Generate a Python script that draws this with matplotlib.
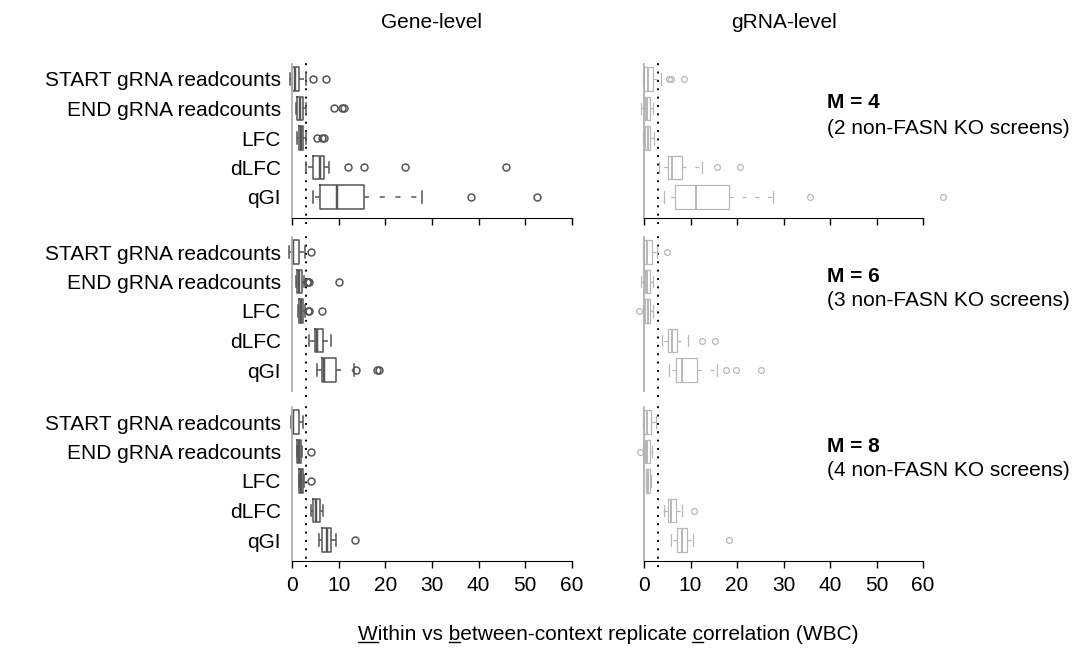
import matplotlib
matplotlib.use('Agg')
import matplotlib.pyplot as plt
from matplotlib.lines import Line2D

plt.rcParams['font.family'] = ['Liberation Sans', 'DejaVu Sans']

# ---------------- data ----------------
categories = ["START gRNA readcounts", "END gRNA readcounts", "LFC", "dLFC", "qGI"]
level_titles = ["Gene-level", "gRNA-level"]
panel_M = [4, 6, 8]
panel_screens = [2, 3, 4]
x_ticks = [0, 10, 20, 30, 40, 50, 60]
threshold = 3.0
x_label = "Within vs between-context replicate correlation (WBC)"
underline_idx = [0, 10, 36]

# box stats per category: [whislo, q1, median, q3, whishi]
gene_M4_box = [[-0.5, 0.1, 0.6, 1.6, 3.1], [0.9, 1.1, 1.7, 2.3, 3.1], [1.1, 1.4, 1.9, 2.3, 2.9],
               [3.1, 4.6, 6.1, 6.9, 7.9], [4.4, 6.0, 9.7, 15.4, 27.8]]
gene_M4_fliers = [[4.6, 7.3], [9.0, 10.8, 11.1], [5.3, 6.5, 6.9], [12.1, 15.4, 24.3, 45.9], [38.3, 52.4]]
gene_M6_box = [[-0.6, 0.1, 0.3, 1.6, 2.8], [0.9, 1.0, 1.5, 2.1, 2.6], [1.3, 1.5, 1.9, 2.3, 2.7],
               [3.7, 4.9, 5.3, 6.6, 8.4], [5.3, 6.4, 6.9, 9.4, 13.2]]
gene_M6_fliers = [[4.0], [3.3, 3.5, 3.6, 10.1], [3.5, 3.7, 6.4], [], [13.7, 18.3, 18.7]]
gene_M8_box = [[-0.2, 0.1, 0.3, 1.6, 2.4], [1.0, 1.1, 1.5, 1.9, 2.2], [1.4, 1.5, 1.9, 2.3, 2.6],
               [4.1, 4.6, 5.1, 6.0, 6.7], [5.7, 6.4, 7.4, 8.3, 9.4]]
gene_M8_fliers = [[], [4.0], [4.0], [], [13.6]]

grna_M4_box = [[-0.3, 0.1, 0.8, 2.0, 3.7], [-0.6, 0.2, 0.7, 1.2, 2.0], [-0.2, 0.3, 0.8, 1.3, 2.2],
               [3.2, 5.2, 6.1, 8.2, 12.4], [4.4, 6.7, 11.1, 18.3, 27.8]]
grna_M4_fliers = [[5.3, 5.9, 8.6], [], [], [15.8, 20.6], [35.8, 64.4]]
grna_M6_box = [[-0.3, 0.1, 0.7, 1.7, 2.7], [-0.6, 0.2, 0.7, 1.2, 2.0], [-0.2, 0.3, 0.8, 1.3, 2.0],
               [3.9, 5.1, 6.1, 7.0, 9.5], [5.4, 6.8, 8.1, 11.3, 15.6]]
grna_M6_fliers = [[4.9], [], [-1.0], [12.4, 15.3], [17.6, 19.8, 25.2]]
grna_M8_box = [[-0.2, 0.1, 0.6, 1.6, 2.6], [-0.3, 0.2, 0.7, 1.2, 1.8], [0.4, 0.5, 0.9, 1.3, 1.6],
               [4.4, 5.1, 5.8, 6.8, 8.1], [5.9, 7.0, 8.1, 9.2, 10.6]]
grna_M8_fliers = [[], [-0.8], [], [10.8], [18.3]]

panels = [
    [(gene_M4_box, gene_M4_fliers), (grna_M4_box, grna_M4_fliers)],
    [(gene_M6_box, gene_M6_fliers), (grna_M6_box, grna_M6_fliers)],
    [(gene_M8_box, gene_M8_fliers), (grna_M8_box, grna_M8_fliers)],
]

# ---------------- layout ----------------
W, H = 1081, 652
fig = plt.figure(figsize=(W / 100, H / 100), dpi=100)

col_x = [(292, 280), (644, 279)]
row_spacing = 29.5
first_row_y = [79, 252, 422]
ylim = (5.7, 0.5)
ax_h = (ylim[0] - ylim[1]) * row_spacing
colors = ['#555555', '#b8b8b8']
lws = [1.1, 0.9]
msizes = [5.0, 4.2]
FS = 15

for r in range(3):
    top = first_row_y[r] - (1 - ylim[1]) * row_spacing
    for c in range(2):
        x0, w = col_x[c]
        ax = fig.add_axes([x0 / W, 1 - (top + ax_h) / H, w / W, ax_h / H])
        box, fliers = panels[r][c]
        stats = []
        for b, f in zip(box, fliers):
            stats.append(dict(whislo=b[0], q1=b[1], med=b[2], q3=b[3], whishi=b[4], fliers=f))
        col = colors[c]
        lw = lws[c]
        kw = dict(positions=list(range(1, 6)), widths=0.8, capwidths=0.4, showfliers=True,
                  boxprops=dict(color=col, linewidth=lw),
                  whiskerprops=dict(color=col, linewidth=lw, linestyle=(0, (3.3, 7))),
                  capprops=dict(color=col, linewidth=lw),
                  medianprops=dict(color=col, linewidth=lw * 1.6),
                  flierprops=dict(marker='o', markerfacecolor='none', markeredgecolor=col,
                                  markersize=msizes[c], markeredgewidth=lw, linestyle='none'),
                  manage_ticks=False)
        try:
            arts = ax.bxp(stats, orientation='horizontal', **kw)
        except TypeError:
            arts = ax.bxp(stats, vert=False, **kw)
        for k in arts:
            for a in arts[k]:
                a.set_clip_on(False)
        ax.axvline(threshold, ymin=-0.04, ymax=1.04, color='black', linewidth=1.4,
                   linestyle=(0, (1, 3.3)), clip_on=False, zorder=0)
        ax.set_xlim(0, 60)
        ax.set_ylim(*ylim)
        for s in ['top', 'right']:
            ax.spines[s].set_visible(False)
        ax.spines['left'].set_color('#b0b0b0')
        ax.spines['left'].set_linewidth(1.3)
        ax.tick_params(axis='y', length=0, pad=8)
        if c == 0:
            ax.set_yticks(range(1, 6))
            ax.set_yticklabels(categories, fontsize=FS)
        else:
            ax.set_yticks([])
        ax.set_xticks(x_ticks)
        ax.tick_params(axis='x', length=5, width=1, direction='out', color='black', pad=6)
        if r == 1:
            ax.spines['bottom'].set_visible(False)
            ax.tick_params(axis='x', length=0, labelbottom=False)
        elif r == 0:
            ax.tick_params(axis='x', labelbottom=False)
            ax.spines['bottom'].set_bounds(0, 60)
        else:
            ax.set_xticklabels([str(t) for t in x_ticks], fontsize=FS)
            ax.spines['bottom'].set_bounds(0, 60)
        ax.patch.set_alpha(0)
        if c == 1:
            ax.text(827 / W, 1 - (first_row_y[r] + 24) / H, f"M = {panel_M[r]}", transform=fig.transFigure,
                    fontsize=FS, fontweight='bold', ha='left', va='center')
            ax.text(827 / W, 1 - (first_row_y[r] + 49) / H,
                    f"({panel_screens[r]} non-FASN KO screens)", transform=fig.transFigure,
                    fontsize=FS, ha='left', va='center')

fig.text(432 / W, 1 - 22 / H, level_titles[0], fontsize=FS, ha='center', va='center')
fig.text(784 / W, 1 - 22 / H, level_titles[1], fontsize=FS, ha='center', va='center')

xl = fig.text(608 / W, 1 - 634 / H, x_label, fontsize=FS, ha='center', va='center')
fig.canvas.draw()
renderer = fig.canvas.get_renderer()
bb = xl.get_window_extent(renderer)
fp = xl.get_fontproperties()
_, _, desc = renderer.get_text_width_height_descent(x_label, fp, ismath=False)
base = bb.y0 + desc
for i in underline_idx:
    w0 = renderer.get_text_width_height_descent(x_label[:i], fp, ismath=False)[0] if i > 0 else 0
    w1 = renderer.get_text_width_height_descent(x_label[:i + 1], fp, ismath=False)[0]
    y = base - 2
    fig.add_artist(Line2D([(bb.x0 + w0) / W, (bb.x0 + w1) / W], [y / H, y / H],
                          transform=fig.transFigure, color='black', linewidth=1.0))

fig.savefig('out.png', dpi=100)
